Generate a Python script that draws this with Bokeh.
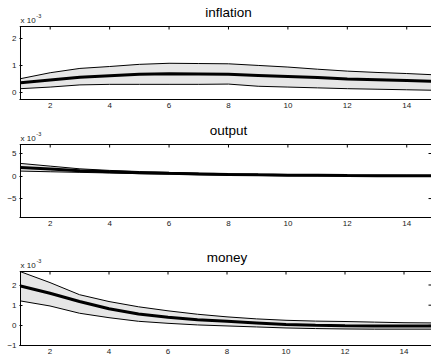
from bokeh.plotting import figure
from bokeh.models import FixedTicker, Label, Range1d
from bokeh.layouts import column
from bokeh.embed import file_html
from bokeh.resources import INLINE

# ---------------- data (values in units of 1e-3) ----------------
periods = list(range(1, 16))
x_ticks = [2, 4, 6, 8, 10, 12, 14]

inflation_mid = [0.35, 0.45, 0.55, 0.61, 0.66, 0.68, 0.67, 0.66, 0.62, 0.58, 0.54, 0.49, 0.46, 0.43, 0.40]
inflation_upper = [0.50, 0.72, 0.88, 0.95, 1.03, 1.07, 1.06, 1.05, 0.99, 0.93, 0.85, 0.78, 0.73, 0.69, 0.64]
inflation_lower = [0.13, 0.19, 0.27, 0.29, 0.29, 0.29, 0.29, 0.30, 0.22, 0.19, 0.16, 0.13, 0.11, 0.09, 0.07]
inflation_yticks = [0, 1, 2]

output_mid = [1.90, 1.55, 1.20, 0.95, 0.75, 0.60, 0.46, 0.36, 0.27, 0.20, 0.15, 0.11, 0.08, 0.06, 0.05]
output_upper = [2.80, 2.20, 1.60, 1.25, 1.00, 0.80, 0.65, 0.52, 0.42, 0.34, 0.27, 0.22, 0.18, 0.15, 0.13]
output_lower = [1.10, 0.95, 0.82, 0.68, 0.54, 0.42, 0.30, 0.20, 0.13, 0.07, 0.03, 0.00, -0.02, -0.03, -0.04]
output_yticks = [-5, 0, 5]

money_mid = [1.95, 1.59, 1.18, 0.82, 0.56, 0.40, 0.28, 0.20, 0.12, 0.04, 0.00, -0.02, -0.03, -0.03, -0.03]
money_upper = [2.66, 2.12, 1.52, 1.18, 0.92, 0.72, 0.55, 0.42, 0.32, 0.25, 0.21, 0.19, 0.16, 0.13, 0.12]
money_lower = [1.21, 0.96, 0.60, 0.38, 0.20, 0.10, 0.02, -0.03, -0.08, -0.13, -0.16, -0.18, -0.19, -0.19, -0.19]
money_yticks = [-1, 0, 1, 2]

FONT = "Liberation Sans"
FILL = "#e6e6e6"
TEXT = "#1a1a1a"
PAGE_W = 431


def make_panel(name, lower, mid, upper, y_lo, y_hi, y_ticks, height, head, bottom,
               left, px_per_unit, right_ticks):
    box_h = height - head - bottom          # pixel height of the axes box
    unit = (y_hi - y_lo) / box_h            # data units per pixel (y)
    xunit = 1.0 / px_per_unit               # data units per pixel (x)
    frame_w = PAGE_W - left
    x_start = 1 - xunit
    x_end = x_start + frame_w * xunit
    y_top = y_hi + head * unit

    p = figure(width=PAGE_W, height=height,
               x_range=Range1d(x_start, x_end), y_range=Range1d(y_lo, y_top),
               output_backend="svg", toolbar_location=None,
               min_border_left=left, min_border_right=0,
               min_border_top=0, min_border_bottom=bottom,
               outline_line_color=None, background_fill_color="white",
               border_fill_color="white")
    p.grid.visible = False

    # band and impulse response
    p.varea(x=periods, y1=lower, y2=upper, fill_color=FILL)
    p.line(periods, upper, line_color="black", line_width=1)
    p.line(periods, lower, line_color="black", line_width=1)
    p.line(periods, mid, line_color="black", line_width=3)

    # box: left and top edges, top and right inward ticks
    p.segment(x0=[1], y0=[y_lo], x1=[1], y1=[y_hi], line_color="black", line_width=1)
    p.segment(x0=[x_start], y0=[y_hi], x1=[x_end], y1=[y_hi], line_color="black", line_width=1)
    p.segment(x0=x_ticks, y0=[y_hi] * len(x_ticks), x1=x_ticks,
              y1=[y_hi - 3 * unit] * len(x_ticks), line_color="black", line_width=1)
    if right_ticks:
        p.segment(x0=[x_end - 3 * xunit] * len(y_ticks), y0=y_ticks,
                  x1=[x_end] * len(y_ticks), y1=y_ticks, line_color="black", line_width=1)

    xa = p.xaxis[0]
    xa.ticker = FixedTicker(ticks=x_ticks)
    xa.major_tick_in = 0
    xa.major_tick_out = 0
    xa.minor_tick_line_color = None
    xa.axis_line_color = "black"
    xa.axis_line_width = 1
    xa.major_label_text_font = FONT
    xa.major_label_text_font_size = "8px"
    xa.major_label_text_color = TEXT
    xa.major_label_standoff = 3

    ya = p.yaxis[0]
    ya.ticker = FixedTicker(ticks=y_ticks)
    ya.major_tick_in = 3
    ya.major_tick_out = 0
    ya.minor_tick_line_color = None
    ya.axis_line_color = None
    ya.major_label_text_font = FONT
    ya.major_label_text_font_size = "8px"
    ya.major_label_text_color = TEXT
    ya.major_label_standoff = 3

    p.add_layout(Label(x=8, y=y_hi + 14 * unit, text=name, text_align="center",
                       text_baseline="alphabetic", text_font=FONT,
                       text_font_size="13.5px", text_color="black"))
    p.add_layout(Label(x=1, y=y_hi + 6.5 * unit, text="x 10", text_align="left",
                       text_baseline="alphabetic", text_font=FONT,
                       text_font_size="8px", text_color=TEXT))
    p.add_layout(Label(x=1 + 16 * xunit, y=y_hi + 10.5 * unit, text="-3",
                       text_align="left", text_baseline="alphabetic", text_font=FONT,
                       text_font_size="5.5px", text_color=TEXT))
    return p


p1 = make_panel("inflation", inflation_lower, inflation_mid, inflation_upper,
                -0.27, 2.43, inflation_yticks, height=118, head=26, bottom=19,
                left=15, px_per_unit=30, right_ticks=False)
p2 = make_panel("output", output_lower, output_mid, output_upper,
                -9.2, 7.0, output_yticks, height=119, head=26, bottom=20,
                left=15, px_per_unit=30, right_ticks=True)
p3 = make_panel("money", money_lower, money_mid, money_upper,
                -1.0, 2.67, money_yticks, height=121, head=34, bottom=13,
                left=19, px_per_unit=29.5, right_ticks=True)

layout = column(p1, p2, p3, spacing=0)
open("out.html", "w").write(file_html(layout, INLINE))
